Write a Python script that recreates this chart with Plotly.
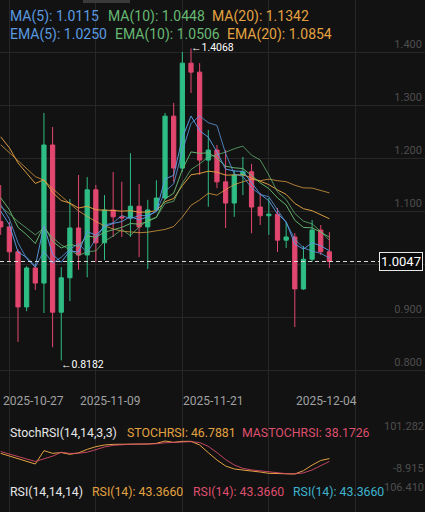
import plotly.graph_objects as go
import pandas as pd

# ---------------- data ----------------
dates = ["2025-10-27", "2025-10-28", "2025-10-29", "2025-10-30", "2025-10-31",
         "2025-11-01", "2025-11-02", "2025-11-03", "2025-11-04", "2025-11-05",
         "2025-11-06", "2025-11-07", "2025-11-08", "2025-11-09", "2025-11-10",
         "2025-11-11", "2025-11-12", "2025-11-13", "2025-11-14", "2025-11-15",
         "2025-11-16", "2025-11-17", "2025-11-18", "2025-11-19", "2025-11-20",
         "2025-11-21", "2025-11-22", "2025-11-23", "2025-11-24", "2025-11-25",
         "2025-11-26", "2025-11-27", "2025-11-28", "2025-11-29", "2025-11-30",
         "2025-12-01", "2025-12-02", "2025-12-03", "2025-12-04"]

opens = [1.080, 1.070, 1.023, 0.919, 0.9925, 0.964, 1.2245, 0.909, 0.974, 1.068,
         1.017, 1.140, 1.040, 1.102, 1.089, 1.087, 1.109, 1.070, 1.102, 1.1245,
         1.279, 1.181, 1.379, 1.362, 1.196, 1.215, 1.155, 1.115, 1.168, 1.174,
         1.1075, 1.091, 1.094, 1.045, 1.051, 0.953, 1.009, 1.064, 1.023]
highs = [1.149, 1.079, 1.028, 0.996, 0.998, 1.285, 1.2585, 0.994, 1.1226, 1.168,
         1.164, 1.149, 1.130, 1.1736, 1.155, 1.209, 1.151, 1.121, 1.158, 1.285,
         1.304, 1.400, 1.4068, 1.379, 1.253, 1.2245, 1.215, 1.177, 1.202, 1.189,
         1.134, 1.1245, 1.1057, 1.079, 1.0585, 1.034, 1.083, 1.0736, 1.060]
lows = [1.055, 1.004, 0.853, 0.911, 0.951, 0.9075, 0.843, 0.8182, 0.930, 0.989,
        0.975, 1.004, 1.0075, 1.051, 1.051, 1.051, 1.013, 0.9906, 1.100, 1.121,
        1.155, 1.174, 1.3226, 1.168, 1.108, 1.143, 1.068, 1.089, 1.130, 1.058,
        1.0736, 1.055, 1.0226, 1.030, 0.881, 0.951, 1.004, 1.017, 0.9925]
closes = [1.070, 1.023, 0.919, 0.9925, 0.964, 1.2245, 0.909, 0.974, 1.068, 1.017,
          1.140, 1.040, 1.102, 1.089, 1.087, 1.109, 1.070, 1.102, 1.1245, 1.279,
          1.181, 1.379, 1.362, 1.196, 1.215, 1.155, 1.115, 1.168, 1.174, 1.1075,
          1.091, 1.094, 1.045, 1.051, 0.953, 1.009, 1.064, 1.023, 1.0047]

ma5 = [1.112, 1.085, 1.040, 1.010, 0.9937, 1.0246, 1.0018, 1.0128, 1.0279, 1.0385,
       1.0216, 1.0478, 1.0734, 1.0776, 1.0916, 1.0854, 1.0914, 1.0914, 1.0985, 1.1369,
       1.1513, 1.2131, 1.2651, 1.2794, 1.2666, 1.2614, 1.2086, 1.1698, 1.1654, 1.1439,
       1.1311, 1.1269, 1.1023, 1.0777, 1.0468, 1.0304, 1.0244, 1.0200, 1.0115]
ma10 = [1.108, 1.095, 1.080, 1.068, 1.055, 1.068, 1.050, 1.036, 1.027, 1.0161,
        1.0231, 1.0248, 1.0431, 1.0528, 1.0651, 1.0535, 1.0696, 1.0824, 1.0881, 1.1143,
        1.1184, 1.1523, 1.1783, 1.1890, 1.2018, 1.2064, 1.2109, 1.2175, 1.2224, 1.2053,
        1.1963, 1.1678, 1.1361, 1.1216, 1.0954, 1.0808, 1.0757, 1.0612, 1.0448]
ma20 = [1.225, 1.210, 1.195, 1.180, 1.165, 1.158, 1.142, 1.128, 1.114, 1.100,
        1.090, 1.080, 1.072, 1.066, 1.062, 1.060, 1.059, 1.060, 1.062, 1.0652,
        1.0707, 1.0885, 1.1107, 1.1209, 1.1334, 1.1299, 1.1402, 1.1499, 1.1552, 1.1598,
        1.1573, 1.1600, 1.1572, 1.1553, 1.1486, 1.1436, 1.1433, 1.1393, 1.1342]
ema5 = [1.100, 1.0743, 1.0225, 1.0125, 0.9963, 1.0724, 1.0179, 1.0033, 1.0249, 1.0223,
        1.0615, 1.0543, 1.0702, 1.0765, 1.0800, 1.0897, 1.0831, 1.0894, 1.1011, 1.1604,
        1.1673, 1.2379, 1.2793, 1.2515, 1.2393, 1.2112, 1.1791, 1.1754, 1.1749, 1.1524,
        1.1319, 1.1193, 1.0945, 1.0800, 1.0377, 1.0281, 1.0401, 1.0344, 1.0250]
ema10 = [1.125, 1.1024, 1.0691, 1.0552, 1.0386, 1.0724, 1.0427, 1.0302, 1.0371, 1.0334,
         1.0528, 1.0505, 1.0599, 1.0652, 1.0692, 1.0764, 1.0752, 1.0801, 1.0882, 1.1229,
         1.1335, 1.1781, 1.2115, 1.2087, 1.2099, 1.1999, 1.1845, 1.1815, 1.1801, 1.1669,
         1.1531, 1.1424, 1.1247, 1.1113, 1.0825, 1.0691, 1.0682, 1.0600, 1.0506]
ema20 = [1.240, 1.2193, 1.1907, 1.1718, 1.1520, 1.1589, 1.1351, 1.1198, 1.1149, 1.1056,
         1.1089, 1.1023, 1.1023, 1.1010, 1.0997, 1.1006, 1.0977, 1.0981, 1.1006, 1.1176,
         1.1236, 1.1479, 1.1683, 1.1709, 1.1751, 1.1732, 1.1677, 1.1677, 1.1683, 1.1625,
         1.1557, 1.1498, 1.1398, 1.1313, 1.1143, 1.1043, 1.1005, 1.0931, 1.0854]

stochrsi = [62.6, 54.5, 47.5, 37.4, 30.3, 70.7, 62.6, 65.0, 59.6, 64.0,
            74.7, 82.8, 87.9, 89.9, 89.9, 90.9, 90.9, 90.9, 92.9, 100.0,
            95.9, 99.0, 99.0, 87.9, 64.6, 42.4, 24.2, 15.2, 12.0, 10.0,
            6.0, 2.0, 1.0, 0.0, 0.0, 10.0, 27.0, 41.0, 46.7881]
mastochrsi = [68.0, 60.0, 54.0, 46.0, 38.0, 46.0, 54.0, 66.0, 62.4, 62.9,
              66.1, 73.8, 81.8, 86.9, 89.2, 90.2, 90.6, 90.9, 91.6, 94.6,
              96.3, 98.3, 98.0, 95.3, 83.8, 65.0, 43.7, 27.3, 17.1, 12.4,
              9.3, 6.0, 3.0, 1.0, 0.3, 3.3, 12.3, 26.0, 38.1726]

price_ticks = [0.8, 0.9, 1.0, 1.1, 1.2, 1.3, 1.4]
price_tick_text = ["0.800", "0.900", "1.000", "1.100", "1.200", "1.300", "1.400"]
grid_dates = ["2025-10-28", "2025-11-07", "2025-11-17", "2025-11-27", "2025-12-07"]
date_labels = ["2025-10-27", "2025-11-09", "2025-11-21", "2025-12-04"]
sub_axis_labels = ["101.282", "-8.915", "106.410"]

last_price = 1.0047
high_mark = ("2025-11-18", 1.4068)
low_mark = ("2025-11-03", 0.8182)

main_legend = [["MA(5): 1.0115", "MA(10): 1.0448", "MA(20): 1.1342"],
               ["EMA(5): 1.0250", "EMA(10): 1.0506", "EMA(20): 1.0854"]]
stoch_legend = ["StochRSI(14,14,3,3)", "STOCHRSI: 46.7881", "MASTOCHRSI: 38.1726"]
rsi_legend = ["RSI(14,14,14)", "RSI(14): 43.3660", "RSI(14): 43.3660", "RSI(14): 43.3660"]

# ---------------- style / layout ----------------
W, H = 425, 512
BG = "#121212"
GRID = "#272727"
UP = "#2ebd85"
DOWN = "#e2476f"
C_BLUE = "#5b9ae0"
C_GREEN = "#66b873"
C_ORANGE = "#e3a241"
C_PINK = "#de4f6d"
C_CYAN = "#3db4cf"
FONT = "Roboto"

def py(p):
    return 1 - p / H

def pxx(p):
    return p / W

# price scale: 1.0 at pixel 264, 530 px per 1.0
p_top = 1.0 + 264 / 530
p_bot = 1.0 - (H - 264) / 530
# stoch scale: value 0 at pixel 474, 0.33 px per unit
s_top = 474 / 0.33
s_bot = (474 - H) / 0.33
# x scale: first candle centre at 0.7 px, 8.65 px per day
t0 = pd.Timestamp(dates[0])
x_start = t0 - pd.Timedelta(days=0.7 / 8.65)
x_end = x_start + pd.Timedelta(days=W / 8.65)

fig = go.Figure()

fig.add_trace(go.Candlestick(
    x=dates, open=opens, high=highs, low=lows, close=closes,
    increasing=dict(line=dict(color=UP, width=1), fillcolor=UP),
    decreasing=dict(line=dict(color=DOWN, width=1), fillcolor=DOWN),
    whiskerwidth=0, showlegend=False, hoverinfo="skip"))

for vals, col, op in [(ma20, C_ORANGE, 0.75), (ema20, C_ORANGE, 0.95),
                      (ma10, C_GREEN, 0.75), (ema10, C_GREEN, 0.95),
                      (ma5, C_BLUE, 0.8), (ema5, C_BLUE, 0.95)]:
    fig.add_trace(go.Scatter(x=dates, y=vals, mode="lines", opacity=op,
                             line=dict(color=col, width=1), showlegend=False,
                             hoverinfo="skip"))

fig.add_trace(go.Scatter(x=dates, y=stochrsi, yaxis="y2", mode="lines",
                         line=dict(color=C_ORANGE, width=1), showlegend=False, hoverinfo="skip"))
fig.add_trace(go.Scatter(x=dates, y=mastochrsi, yaxis="y2", mode="lines",
                         line=dict(color=C_PINK, width=1), opacity=0.85,
                         showlegend=False, hoverinfo="skip"))

ann = []
# main legend
line_y = [16.5, 34.0]
legend_x = [[8, 106, 210], [8, 113, 225]]
legend_c = [C_BLUE, C_GREEN, C_ORANGE]
for r in range(2):
    for k in range(3):
        ann.append(dict(x=pxx(legend_x[r][k]), y=py(line_y[r]), xref="paper", yref="paper",
                        text=main_legend[r][k], showarrow=False, xanchor="left", yanchor="middle",
                        font=dict(family=FONT, size=14, color=legend_c[k])))
# stoch legend
for txt, x, c in zip(stoch_legend, [8, 125, 240], ["#e6e6e6", C_ORANGE, C_PINK]):
    ann.append(dict(x=pxx(x), y=py(433.2), xref="paper", yref="paper", text=txt,
                    showarrow=False, xanchor="left", yanchor="middle",
                    font=dict(family=FONT, size=12.3, color=c)))
# rsi legend
for txt, x, c in zip(rsi_legend, [8, 90, 191, 291], ["#e6e6e6", C_ORANGE, C_PINK, C_CYAN]):
    ann.append(dict(x=pxx(x), y=py(492.2), xref="paper", yref="paper", text=txt,
                    showarrow=False, xanchor="left", yanchor="middle",
                    font=dict(family=FONT, size=12.3, color=c)))
# sub-pane axis labels
for txt, yy in zip(sub_axis_labels, [426.7, 468.3, 487.3]):
    ann.append(dict(x=1, y=py(yy), xref="paper", yref="paper", text=txt, showarrow=False,
                    xanchor="right", yanchor="middle", xshift=1,
                    font=dict(family=FONT, size=11, color="#4e4e4e")))
# date labels
for i, d in enumerate(date_labels):
    ann.append(dict(x=d, y=py(401), xref="x", yref="paper", text=d, showarrow=False,
                    xanchor="left" if i == 0 else "center", yanchor="middle",
                    xshift=0 if i == 0 else -3,
                    font=dict(family=FONT, size=12, color="#a0a0a0")))
# high / low marks
ann.append(dict(x=high_mark[0], y=high_mark[1], xref="x", yref="y",
                text="\u2190" + f"{high_mark[1]:.4f}", showarrow=False, xanchor="left",
                yanchor="middle", xshift=-2, yshift=1,
                font=dict(family=FONT, size=10.5, color="#ffffff")))
ann.append(dict(x=low_mark[0], y=low_mark[1], xref="x", yref="y",
                text="\u2190" + f"{low_mark[1]:.4f}", showarrow=False, xanchor="left",
                yanchor="middle", xshift=-2, yshift=-4,
                font=dict(family=FONT, size=10.5, color="#ffffff")))
# last price box
ann.append(dict(x=pxx(423), y=last_price, xref="paper", yref="y", text=f"{last_price:.4f}",
                showarrow=False, xanchor="right", yanchor="middle",
                bgcolor="#0a0a0a", bordercolor="#e8e8e8", borderwidth=1, borderpad=1,
                font=dict(family=FONT, size=13, color="#ffffff")))

shapes = [
    dict(type="line", xref="paper", yref="y", x0=0, x1=pxx(379), y0=last_price, y1=last_price,
         line=dict(color="#d8d8d8", width=1, dash="4px,3px")),
    dict(type="rect", xref="paper", yref="paper", x0=pxx(83), x1=pxx(130), y0=py(3), y1=1,
         fillcolor="#3a3a3a", line=dict(width=0)),
]

fig.update_layout(
    width=W, height=H, margin=dict(l=0, r=0, t=0, b=0),
    paper_bgcolor=BG, plot_bgcolor=BG, showlegend=False,
    font=dict(family=FONT),
    xaxis=dict(type="date", range=[x_start, x_end], domain=[0, 1],
               showgrid=True, gridcolor=GRID, gridwidth=1, tickvals=grid_dates,
               showticklabels=False, zeroline=False, showline=False, ticks="",
               rangeslider=dict(visible=False), fixedrange=True),
    yaxis=dict(range=[p_bot, p_top], domain=[0, 1], side="right",
               tickvals=price_ticks, ticktext=price_tick_text,
               ticklabelposition="inside top", showgrid=True, gridcolor=GRID,
               zeroline=False, showline=False, ticks="",
               tickfont=dict(family=FONT, size=11, color="#4e4e4e"), fixedrange=True),
    yaxis2=dict(range=[s_bot, s_top], overlaying="y", side="right", visible=False,
                fixedrange=True),
    annotations=ann, shapes=shapes,
)

fig.write_html("out.html", config={"displayModeBar": False, "staticPlot": True},
               post_script="document.body.style.margin='0';document.body.style.overflow='hidden';")
